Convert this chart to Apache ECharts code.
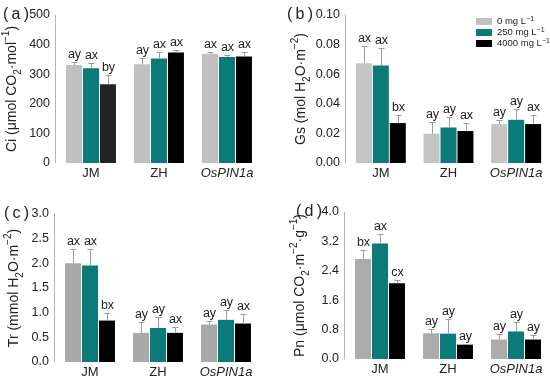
<!DOCTYPE html>
<html>
<head>
<meta charset="utf-8">
<script src="https://cdn.jsdelivr.net/npm/echarts@6/dist/echarts.min.js"></script>
<style>
html,body{margin:0;padding:0;background:#fff;}
#chart{width:550px;height:379px;}
</style>
</head>
<body>
<div id="chart"></div>
<script>
var categories = ['JM', 'ZH', 'OsPIN1a'];
var treatments = ['0 mg L\u207B\u00B9', '250 mg L\u207B\u00B9', '4000 mg L\u207B\u00B9'];

// (a) Ci
var ci0 = [331, 334, 369];
var ci250 = [320, 353, 358];
var ci4000 = [266, 373, 360];
var ciErr0 = [9, 20, 7];
var ciErr250 = [19, 23, 7];
var ciErr4000 = [31, 9, 16];
var ciSig0 = ['ay', 'ay', 'ax'];
var ciSig250 = ['ax', 'ax', 'ax'];
var ciSig4000 = ['by', 'ax', 'ax'];
var ciTicks = [0, 100, 200, 300, 400, 500];

// (b) Gs
var gs0 = [0.0674, 0.0198, 0.0263];
var gs250 = [0.0658, 0.0240, 0.0292];
var gs4000 = [0.0270, 0.0216, 0.0263];
var gsErr0 = [0.0117, 0.0078, 0.0029];
var gsErr250 = [0.0122, 0.0068, 0.0074];
var gsErr4000 = [0.0051, 0.0054, 0.0063];
var gsSig0 = ['ax', 'ay', 'ay'];
var gsSig250 = ['ax', 'ay', 'ay'];
var gsSig4000 = ['bx', 'ax', 'ax'];
var gsTicks = [0, 0.02, 0.04, 0.06, 0.08, 0.10];

// (c) Tr
var tr0 = [2.00, 0.59, 0.76];
var tr250 = [1.955, 0.69, 0.855];
var tr4000 = [0.84, 0.59, 0.78];
var trErr0 = [0.29, 0.22, 0.075];
var trErr250 = [0.335, 0.23, 0.205];
var trErr4000 = [0.16, 0.12, 0.20];
var trSig0 = ['ax', 'ay', 'ay'];
var trSig250 = ['ax', 'ay', 'ay'];
var trSig4000 = ['bx', 'ax', 'ax'];
var trTicks = [0, 0.5, 1.0, 1.5, 2.0, 2.5, 3.0];

// (d) Pn
var pn0 = [2.72, 0.70, 0.53];
var pn250 = [3.14, 0.69, 0.75];
var pn4000 = [2.06, 0.39, 0.53];
var pnErr0 = [0.24, 0.12, 0.14];
var pnErr250 = [0.26, 0.39, 0.26];
var pnErr4000 = [0.08, 0.02, 0.11];
var pnSig0 = ['bx', 'ay', 'ay'];
var pnSig250 = ['ax', 'ay', 'ay'];
var pnSig4000 = ['cx', 'ay', 'ay'];
var pnTicks = [0, 0.8, 1.6, 2.4, 3.2, 4.0];

var FONT = '"Liberation Sans", Arial, "DejaVu Sans", sans-serif';

var panels = [
  {tag: '(\u2009a\u2009)', tagX: 3, tagY: 15, name: 'Ci (\u03BCmol CO{sub|2}\u00B7mol{sup|\u22121})', nameGap: 32,
   grid: {left: 57, top: 15, width: 204, height: 148}, ticks: ciTicks, dec: 0,
   means: [ci0, ci250, ci4000], errs: [ciErr0, ciErr250, ciErr4000], sigs: [ciSig0, ciSig250, ciSig4000],
   colors: ['#c0c0c0', '#0b7b79', '#000000'], darkFirst: true},
  {tag: '(\u2009b\u2009)', tagX: 287, tagY: 15, name: 'Gs (mol H{sub|2}O\u00B7m{sup|\u22122})', nameGap: 28,
   grid: {left: 347, top: 15, width: 204, height: 148}, ticks: gsTicks, dec: 2,
   means: [gs0, gs250, gs4000], errs: [gsErr0, gsErr250, gsErr4000], sigs: [gsSig0, gsSig250, gsSig4000],
   colors: ['#c4c4c4', '#0b7b79', '#000000']},
  {tag: '(\u2009c\u2009)', tagX: 4, tagY: 214, name: 'Tr (mmol H{sub|2}O\u00B7m{sup|\u22122})', nameGap: 29,
   grid: {left: 56, top: 214, width: 204, height: 148}, ticks: trTicks, dec: 1,
   means: [tr0, tr250, tr4000], errs: [trErr0, trErr250, trErr4000], sigs: [trSig0, trSig250, trSig4000],
   colors: ['#a9a9a9', '#0b7b79', '#000000']},
  {tag: '(\u2009d\u2009)', tagX: 296, tagY: 212, name: 'Pn (\u03BCmol CO{sub|2}\u00B7m{sup|\u22122}\u00B7g{sup|\u22121})', nameGap: 33,
   grid: {left: 346, top: 212, width: 204, height: 147}, ticks: pnTicks, dec: 1,
   means: [pn0, pn250, pn4000], errs: [pnErr0, pnErr250, pnErr4000], sigs: [pnSig0, pnSig250, pnSig4000],
   colors: ['#ababab', '#0b7b79', '#000000']}
];

var offsets = [-17, 0, 17];

function makeErr(offset, sigArr) {
  return function (params, api) {
    var base = api.coord([api.value(0), api.value(1)]);
    var top = api.coord([api.value(0), api.value(1) + api.value(2)]);
    var x = Math.round(base[0] + offset) + 0.5;
    var yt = Math.round(top[1]) + 0.5;
    return {
      type: 'group',
      children: [
        {type: 'line', shape: {x1: x, y1: base[1], x2: x, y2: yt}, style: {stroke: '#9c9c9c', lineWidth: 1}},
        {type: 'line', shape: {x1: x - 3, y1: yt, x2: x + 3, y2: yt}, style: {stroke: '#9c9c9c', lineWidth: 1}},
        {type: 'text', style: {text: sigArr[params.dataIndex], x: x, y: yt - 1, align: 'center', verticalAlign: 'bottom',
          fontSize: 12.5, fontFamily: FONT, fill: '#222'}}
      ]
    };
  };
}

var grids = [], xAxes = [], yAxes = [], series = [], graphics = [];
panels.forEach(function (p, pi) {
  grids.push(p.grid);
  xAxes.push({
    type: 'category', gridIndex: pi, data: categories,
    axisLine: {show: false}, axisTick: {show: false},
    axisLabel: {
      interval: 0, margin: 4, fontSize: 13, color: '#222', fontFamily: FONT,
      formatter: function (v) { return v === 'OsPIN1a' ? '{i|OsPIN1a}' : v; },
      rich: {i: {fontStyle: 'italic', fontSize: 13, color: '#222', fontFamily: FONT}}
    }
  });
  var tk = p.ticks;
  yAxes.push({
    type: 'value', gridIndex: pi, min: tk[0], max: tk[tk.length - 1], interval: tk[1] - tk[0],
    offset: 2,
    name: p.name, nameLocation: 'middle', nameGap: p.nameGap,
    nameTextStyle: {fontSize: 14, lineHeight: 22, color: '#222', fontFamily: FONT,
      rich: {
        sub: {fontSize: 10, lineHeight: 10, verticalAlign: 'bottom', color: '#222', fontFamily: FONT},
        sup: {fontSize: 10, lineHeight: 10, verticalAlign: 'top', color: '#222', fontFamily: FONT}
      }},
    axisLine: {show: true, lineStyle: {color: '#b4b4b4', width: 1}},
    axisTick: {show: false},
    splitLine: {show: false},
    axisLabel: {fontSize: 12.5, color: '#222', fontFamily: FONT, margin: 5,
      formatter: (function (d) { return function (v) { return v.toFixed(d); }; })(p.dec)}
  });
  for (var t = 0; t < 3; t++) {
    var col = p.colors[t];
    var barData = p.means[t].map(function (v, i) {
      if (p.darkFirst && t === 2 && i === 0) return {value: v, itemStyle: {color: '#232323'}};
      return v;
    });
    series.push({
      type: 'bar', name: treatments[t], xAxisIndex: pi, yAxisIndex: pi,
      data: barData, barWidth: 16, barGap: '6%',
      itemStyle: {color: col}, z: 2
    });
    var errData = p.means[t].map(function (v, i) { return [i, v, p.errs[t][i]]; });
    series.push({
      type: 'custom', xAxisIndex: pi, yAxisIndex: pi, data: errData,
      encode: {x: 0, y: 1}, renderItem: makeErr(offsets[t], p.sigs[t]), clip: false, z: 5,
      silent: true
    });
  }
  graphics.push({
    type: 'text', x: p.tagX, y: p.tagY,
    style: {text: p.tag, fontSize: 16, fontFamily: FONT, fill: '#222', verticalAlign: 'middle'}
  });
});

var chart = echarts.init(document.getElementById('chart'), null, {renderer: 'canvas'});
chart.setOption({
  animation: false,
  backgroundColor: '#fff',
  color: ['#c8c8c8', '#0b7b79', '#000000'],
  grid: grids,
  xAxis: xAxes,
  yAxis: yAxes,
  series: series,
  graphic: graphics,
  legend: {
    data: treatments, orient: 'vertical', left: 471, top: 11,
    icon: 'rect', itemWidth: 16, itemHeight: 7, itemGap: 0,
    formatter: function (n) { return n.replace('L\u207B\u00B9', 'L{sup|\u22121}'); },
    textStyle: {fontSize: 9.5, lineHeight: 11, color: '#222', fontFamily: FONT,
      rich: {sup: {fontSize: 7, lineHeight: 7, verticalAlign: 'top', color: '#222', fontFamily: FONT}}},
    selectedMode: false
  }
});
</script>
</body>
</html>
